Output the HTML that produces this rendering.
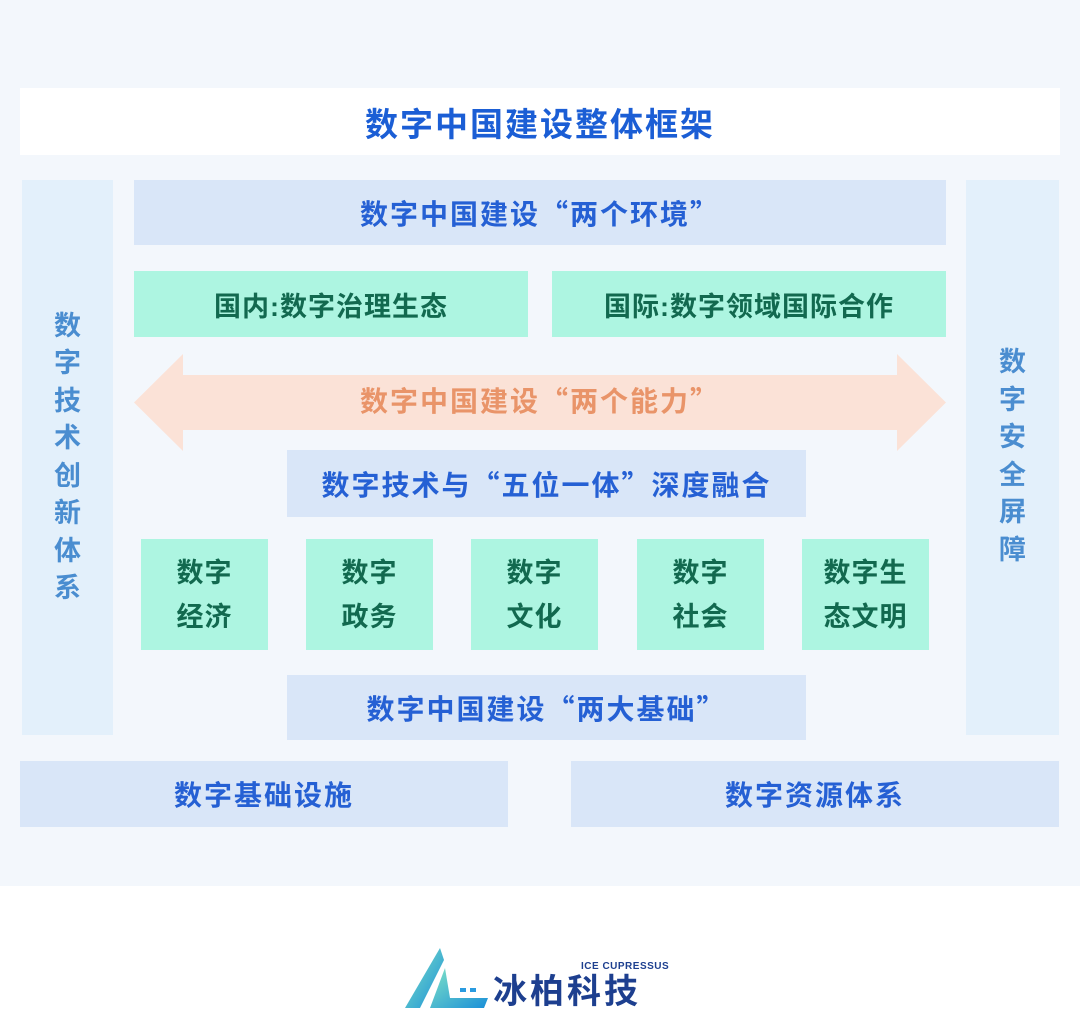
<!DOCTYPE html>
<html><head><meta charset="utf-8"><style>
body{margin:0;width:1080px;height:1018px;background:#fff;position:relative;overflow:hidden;font-family:"Liberation Sans","Noto Sans CJK SC",sans-serif;font-weight:bold}
.q{font-family:"Noto Sans CJK SC",sans-serif}
.bg{position:absolute;left:0;top:0;width:1080px;height:886px;background:#f3f7fc}
.b{position:absolute;display:flex;align-items:center;justify-content:center;text-align:center}
.blue{background:#d9e6f8;color:#2560d4;font-size:28px;letter-spacing:2px}
.green{background:#adf5e1;color:#12694f;font-size:27px;letter-spacing:1px}
.col{background:#e3f0fb;color:#4a8dd0;font-size:27px;line-height:37.5px}
.five{line-height:44px}
</style></head><body>
<div class="bg"></div>
<div class="b" style="left:20px;top:88px;width:1040px;height:67px;background:#fff;color:#1b5ed5;font-size:33px;letter-spacing:2px">数字中国建设整体框架</div>
<div class="b col" style="left:22px;top:180px;width:91px;height:555px"><div>数<br>字<br>技<br>术<br>创<br>新<br>体<br>系</div></div>
<div class="b col" style="left:966px;top:180px;width:93px;height:555px"><div style="margin-top:-2px">数<br>字<br>安<br>全<br>屏<br>障</div></div>
<div class="b blue" style="left:134px;top:180px;width:812px;height:65px">数字中国建设<span class="q">“</span>两个环境<span class="q">”</span></div>
<div class="b green" style="left:134px;top:271px;width:394px;height:66px">国内:数字治理生态</div>
<div class="b green" style="left:552px;top:271px;width:394px;height:66px">国际:数字领域国际合作</div>
<svg style="position:absolute;left:134px;top:354px" width="812" height="97"><polygon points="0,48.5 49,0 49,21 763,21 763,0 812,48.5 763,97 763,76 49,76 49,97" fill="#fbe2d7"/></svg>
<div class="b" style="left:134px;top:372px;width:812px;height:55px;color:#e99469;font-size:28px;letter-spacing:2px">数字中国建设<span class="q">“</span>两个能力<span class="q">”</span></div>
<div class="b blue" style="left:287px;top:450px;width:519px;height:67px">数字技术与<span class="q">“</span>五位一体<span class="q">”</span>深度融合</div>
<div class="b green five" style="left:141px;top:539px;width:127px;height:111px">数字<br>经济</div>
<div class="b green five" style="left:306px;top:539px;width:127px;height:111px">数字<br>政务</div>
<div class="b green five" style="left:471px;top:539px;width:127px;height:111px">数字<br>文化</div>
<div class="b green five" style="left:637px;top:539px;width:127px;height:111px">数字<br>社会</div>
<div class="b green five" style="left:802px;top:539px;width:127px;height:111px">数字生<br>态文明</div>
<div class="b blue" style="left:287px;top:675px;width:519px;height:65px">数字中国建设<span class="q">“</span>两大基础<span class="q">”</span></div>
<div class="b blue" style="left:20px;top:761px;width:488px;height:66px">数字基础设施</div>
<div class="b blue" style="left:571px;top:761px;width:488px;height:66px">数字资源体系</div>
<svg style="position:absolute;left:400px;top:940px" width="90" height="70">
<defs><linearGradient id="g" x1="0" y1="0" x2="1" y2="1"><stop offset="0" stop-color="#7fe3c6"/><stop offset="1" stop-color="#1a8fd8"/></linearGradient></defs>
<polygon points="5,68 40,8 44,20 20,68" fill="url(#g)"/>
<polygon points="30,68 45,28 50,58 88,58 84,68" fill="url(#g)"/>
<rect x="60" y="48" width="6" height="4" fill="#2a9be0"/><rect x="70" y="48" width="6" height="4" fill="#2a9be0"/>
</svg>
<div style="position:absolute;left:581px;top:961px;font-size:10px;color:#1d3f8f;letter-spacing:0.5px">ICE CUPRESSUS</div>
<div style="position:absolute;left:493px;top:972px;font-size:34px;color:#1d3f8f;letter-spacing:3px;line-height:40px">冰柏科技</div>
</body></html>
